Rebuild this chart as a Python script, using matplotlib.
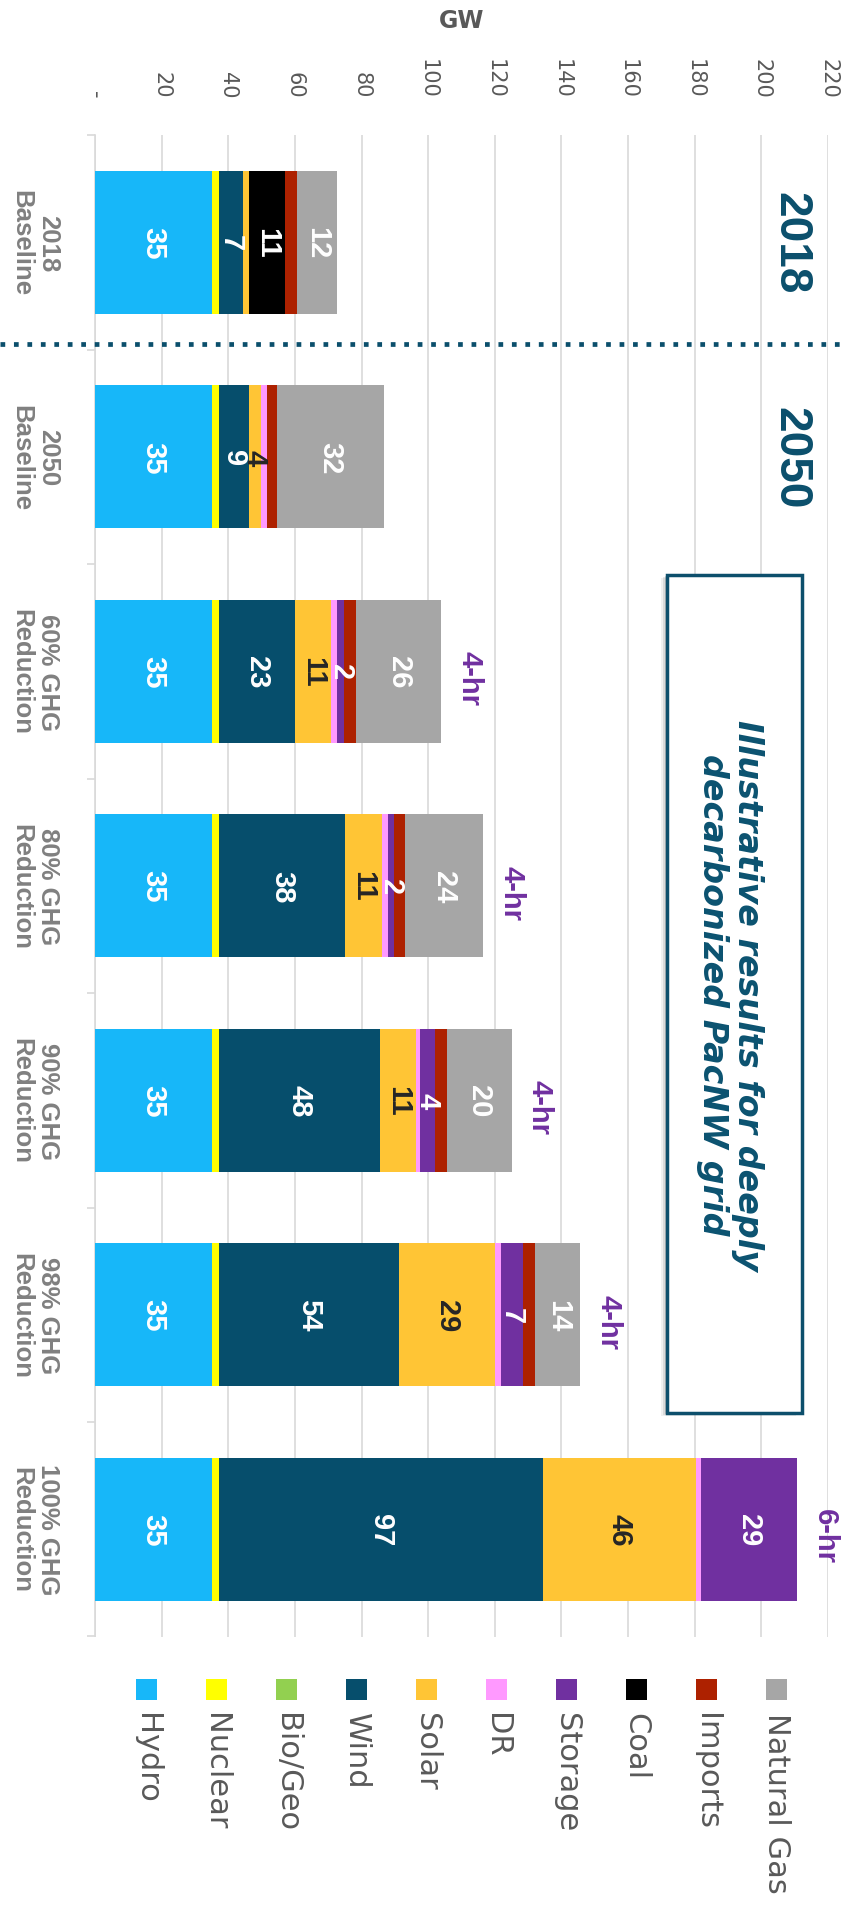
import matplotlib
matplotlib.use("Agg")
import matplotlib.pyplot as plt
import matplotlib.transforms as mtransforms
from matplotlib.patches import Rectangle
import numpy as np

# ---- data -------------------------------------------------------------
scenarios = ["2018\nBaseline", "2050\nBaseline", "60% GHG\nReduction",
             "80% GHG\nReduction", "90% GHG\nReduction", "98% GHG\nReduction",
             "100% GHG\nReduction"]
resources = ["Hydro", "Nuclear", "Bio/Geo", "Wind", "Solar", "DR",
             "Storage", "Coal", "Imports", "Natural Gas"]

hydro = [35.2, 35.2, 35.2, 35.2, 35.2, 35.2, 35.2]
nuclear = [1.9, 1.9, 1.9, 1.9, 1.9, 1.9, 1.9]
bio_geo = [0, 0, 0, 0, 0, 0, 0]
wind = [7.3, 9.0, 23.0, 38.0, 48.5, 54.0, 97.4]
solar = [1.9, 3.6, 10.8, 10.9, 10.6, 29.0, 45.8]
dr = [0, 1.8, 1.8, 1.8, 1.4, 1.8, 1.5]
storage = [0, 0, 2.0, 2.0, 4.4, 6.6, 28.8]
coal = [10.7, 0, 0, 0, 0, 0, 0]
imports = [3.5, 3.2, 3.7, 3.2, 3.5, 3.6, 0]
natural_gas = [12.1, 32.0, 25.5, 23.6, 19.6, 13.6, 0]

storage_duration = ["", "", "4-hr", "4-hr", "4-hr", "4-hr", "6-hr"]
gw_ticks = [0, 20, 40, 60, 80, 100, 120, 140, 160, 180, 200, 220]
gw_tick_labels = ["-", "20", "40", "60", "80", "100", "120", "140",
                  "160", "180", "200", "220"]

series = [hydro, nuclear, bio_geo, wind, solar, dr, storage, coal,
          imports, natural_gas]
colors = ["#17b7f9", "#ffff00", "#92d050", "#064e6c", "#ffc535",
          "#ff99ff", "#7030a0", "#000000", "#ad2100", "#a6a6a6"]
labelled = {"Hydro": "white", "Wind": "white", "Solar": "#262626",
            "Storage": "white", "Coal": "white", "Natural Gas": "white"}

TEAL = "#0b4f6c"
PURPLE = "#7030a0"
GREY = "#595959"

# ---- figure -----------------------------------------------------------
W, H = 846, 1908
fig = plt.figure(figsize=(W / 100, H / 100), dpi=100)
ax_left, ax_right, ax_top, ax_bot = 95, 828, 136, 1637.5
ax = fig.add_axes([ax_left / W, (H - ax_bot) / H,
                   (ax_right - ax_left) / W, (ax_bot - ax_top) / H])

ypos = np.arange(len(scenarios))
left = np.zeros(len(scenarios))
for name, vals, col in zip(resources, series, colors):
    vals = np.asarray(vals, dtype=float)
    ax.barh(ypos, vals, left=left, height=0.667, color=col, zorder=3,
            linewidth=0)
    if name in labelled:
        for y, v, l0 in zip(ypos, vals, left):
            if v >= 2:
                ax.text(l0 + v / 2, y, f"{v:.0f}", rotation=-90,
                        ha="center", va="center", fontsize=21,
                        fontweight="bold", family="Liberation Sans",
                        color=labelled[name], zorder=4)
    left = left + vals

totals = left
for y, tot, dur in zip(ypos, totals, storage_duration):
    if dur:
        ax.annotate(dur, xy=(tot, y + 0.03), xytext=(10, 0),
                    textcoords="offset points", ha="left", va="center",
                    rotation=-90, fontsize=21, fontweight="bold",
                    family="Liberation Sans", color=PURPLE, zorder=4)

ax.set_xlim(0, 220)
ax.set_ylim(len(scenarios) - 0.5, -0.5)

# value axis along the top
ax.xaxis.tick_top()
ax.set_xticks(gw_ticks)
ax.set_xticklabels(gw_tick_labels, rotation=-90, fontsize=15, color=GREY)
ax.tick_params(axis="x", length=0, pad=27)
ax.grid(axis="x", color="#d9d9d9", linewidth=1.2, zorder=0)

# category axis on the left
ax.set_yticks([])
ax.set_yticks(np.arange(-0.5, len(scenarios), 1.0), minor=True)
ax.tick_params(axis="y", which="minor", length=6, color="#d9d9d9",
               width=1.2, labelleft=False)
for s in ("top", "right", "bottom"):
    ax.spines[s].set_visible(False)
ax.spines["left"].set_color("#d9d9d9")
ax.spines["left"].set_linewidth(1.2)

blend = mtransforms.blended_transform_factory(ax.transAxes, ax.transData)
for y, name in zip(ypos, scenarios):
    ax.text((35 - ax_left) / (ax_right - ax_left), y, name, transform=blend,
            rotation=-90, ha="center", va="center", multialignment="center",
            fontsize=18.5, fontweight="bold", family="Liberation Sans",
            color="#808080", linespacing=1.15)

# year markers and the divider between today and 2050
for y, yr in zip([0, 1], ["2018", "2050"]):
    ax.text(208.7, y, yr, rotation=-90, ha="center", va="center",
            fontsize=33, fontweight="bold", family="Liberation Sans",
            color=TEAL, zorder=4)
ax.plot([-ax_left / (ax_right - ax_left), (W - ax_left) / (ax_right - ax_left)],
        [0.475, 0.475], transform=blend, color=TEAL, linewidth=3.4,
        linestyle=(0, (1.0, 1.85)), dash_capstyle="butt", clip_on=False,
        zorder=5)

# callout box
bx0, bx1, by0, by1 = 171.6, 212.1, 1.55, 5.46
for k, a in zip([6, 4, 2], [0.08, 0.12, 0.18]):
    sh = mtransforms.offset_copy(ax.transData, fig=fig, x=-k, y=-k / 2,
                                 units="dots")
    ax.add_patch(Rectangle((bx0, by0), bx1 - bx0, by1 - by0, transform=sh,
                           facecolor="#404040", edgecolor="none", alpha=a,
                           zorder=5))
ax.add_patch(Rectangle((bx0, by0), bx1 - bx0, by1 - by0, facecolor="white",
                       edgecolor="#0d4f6c", linewidth=2.5, zorder=6))
ax.text(190.6, (by0 + by1) / 2,
        "Illustrative results for deeply\ndecarbonized PacNW grid",
        rotation=-90, ha="center", va="center", multialignment="center",
        fontsize=24, fontweight="bold", fontstyle="italic",
        family="DejaVu Sans", color="#0b5270", linespacing=1.1, zorder=7)

fig.text((ax_left + ax_right) / 2 / W, 1 - 21 / H, "GW", ha="center",
         va="center", fontsize=17, fontweight="bold", color=GREY)

# legend
for i, (name, col) in enumerate(zip(resources, colors)):
    cx = 146 + 70 * i
    fig.add_artist(Rectangle(((cx - 10.5) / W, (H - 1701) / H), 21 / W,
                             21 / H, transform=fig.transFigure,
                             facecolor=col, edgecolor="none"))
    fig.text(cx / W, 1 - 1713 / H, name, rotation=-90, ha="center",
             va="top", fontsize=22, color=GREY)

fig.savefig("out.png", dpi=100, facecolor="white")
